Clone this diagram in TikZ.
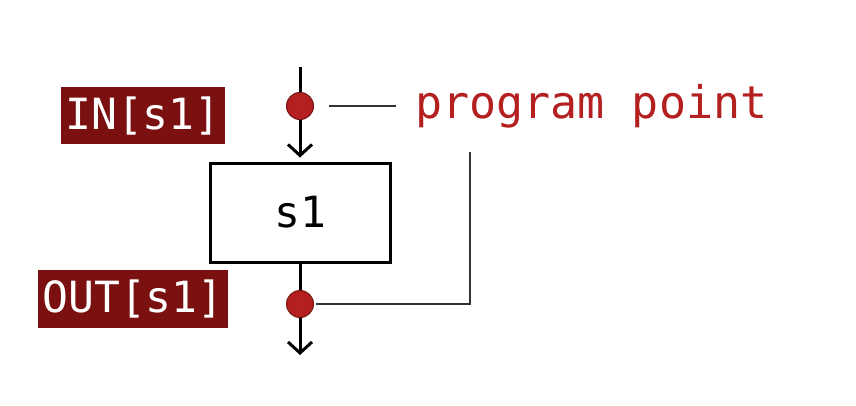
\documentclass[tikz,border=0pt]{standalone}
\usepackage{fontspec}
\setmonofont{DejaVu Sans Mono}
\usetikzlibrary{arrows.meta}
\usetikzlibrary{calc}

\definecolor{ptred}{RGB}{180,32,32}
\definecolor{ptdark}{RGB}{118,18,18}
\definecolor{lblred}{RGB}{122,16,16}

\tikzset{
  ppoint/.style={circle, draw=ptdark, fill=ptred, line width=1pt, inner sep=0pt, minimum size=27pt},
  setlbl/.style={fill=lblred, text=white, inner xsep=4pt, inner ysep=0pt, minimum height=57pt, font=\fontsize{43}{43}\selectfont\ttfamily},
  flow/.style={line width=3pt},
  flowarr/.style={line width=3pt, -{Straight Barb[length=11pt, width=24pt, line width=3pt]}},
  note/.style={line width=1.3pt, black!80}
}

\begin{document}
\begin{tikzpicture}[x=1pt, y=-1pt]
      \useasboundingbox (0,0) rectangle (856,405);

      \node[draw, line width=3pt, minimum width=180pt, minimum height=99pt, inner sep=0pt, font=\fontsize{43}{43}\selectfont\ttfamily] (s1) at (300,212.5) {s1};
      \node[ppoint] (pin) at (300,106) {};
      \node[ppoint] (pout) at (300,304) {};
      \coordinate (top) at (300,67);
      \coordinate (bot) at (300,355);

      \node[setlbl] (inlbl) at (143,115.5) {IN[s1]};
      \node[setlbl, minimum height=58pt] (outlbl) at (133,299) {OUT[s1]};
      \node[inner sep=2pt, anchor=west, text=ptred, font=\fontsize{45}{45}\selectfont\ttfamily] (pp) at (413,106) {program point};
      \coordinate (ppfoot) at (470,152);

      \draw[flow] (top) -- (pin);
      \draw[flowarr, shorten >=4pt] (pin) -- (s1);
      \draw[flow] (s1) -- (pout);
      \draw[flowarr] (pout) -- (bot);

      \draw[note, shorten <=15pt, shorten >=17pt] (pin) -- (pp);
      \draw[note] ($(pout.east)+(2,0)$) -| (ppfoot);
    \end{tikzpicture}
\end{document}
